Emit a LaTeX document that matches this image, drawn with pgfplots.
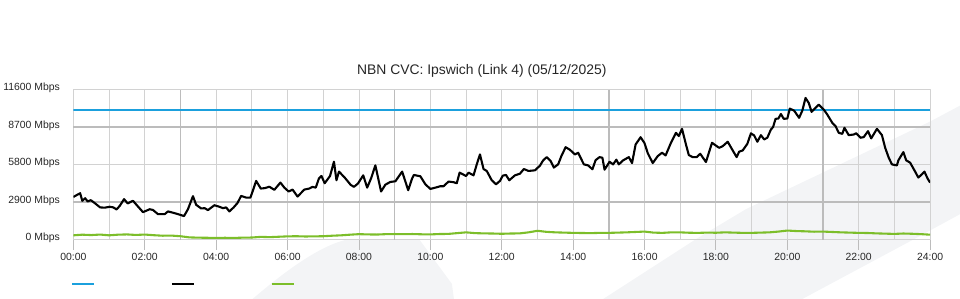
\documentclass[border=0pt]{standalone}
\usepackage{fontspec}
\setmainfont{Liberation Sans}
\usepackage{pgfplots}
\pgfplotsset{compat=1.18}
\definecolor{cblue}{RGB}{27,160,221}
\definecolor{cgreen}{RGB}{124,190,42}
\definecolor{gridlight}{RGB}{210,210,210}
\definecolor{griddark}{RGB}{188,188,188}
\definecolor{wm}{RGB}{243,244,246}
\begin{document}
\begin{tikzpicture}
\begin{scope}[x=1bp,y=1bp]
\useasboundingbox (0,0) rectangle (960,300);
\fill[wm] (250,0) .. controls (285,30) and (320,55) .. (347,60) -- (417,60) -- (450,15) -- (452,0) -- cycle;
\fill[wm] (602,0) -- (695,60) -- (745,90) -- (930,178) -- (960,194) -- (960,85) -- (914,60) -- (802,0) -- cycle;
\node[font=\fontsize{14}{16}\selectfont, text=black!85] at (480,229) {NBN CVC: Ipswich (Link 4) (05/12/2025)};
\draw[cblue, line width=2.2bp] (69,15) -- (91,15);
\draw[black, line width=2.2bp] (169,15) -- (191,15);
\draw[cgreen, line width=2.2bp] (269,15) -- (291,15);
\end{scope}
\begin{axis}[
  at={(70bp,59.5bp)}, anchor=south west,
  width=860bp, height=150.5bp, scale only axis,
  xmin=0, xmax=24, ymin=0, ymax=11600,
  scaled y ticks=false, scaled x ticks=false,
  axis line style={draw=gridlight, line width=0.9bp},
  xtick={0,2,...,24},
  xticklabels={00:00,02:00,04:00,06:00,08:00,10:00,12:00,14:00,16:00,18:00,20:00,22:00,24:00},
  minor xtick={1,3,...,23},
  grid=both,
  major grid style={gridlight, line width=0.9bp},
  minor grid style={gridlight, line width=0.9bp},
  xtick pos=bottom, ytick pos=left,
  tick align=outside,
  x tick style={draw=griddark, line width=0.9bp},
  major tick length=10bp, minor tick length=0bp,
  y tick style={draw=none},
  ytick={0,5800,11600},
  yticklabels={0 Mbps,5800 Mbps,11600 Mbps},
  extra y ticks={2900,8700},
  extra y tick labels={2900 Mbps,8700 Mbps},
  extra y tick style={grid=major, major grid style={griddark, line width=1.4bp}},
  extra x ticks={3,9,15,21},
  extra x tick labels={},
  extra x tick style={grid=major, major grid style={griddark, line width=1.4bp}, major tick length=0bp},
  ticklabel style={font=\fontsize{10.5}{12}\selectfont, text=black!85},
  yticklabel style={yshift=1.5bp},
  line join=round,
]
\addplot[cblue, line width=2.2bp] coordinates {(0,10000) (24,10000)};
\addplot[black, line width=2.1bp] coordinates {
(0.00,3300) (0.19,3590) (0.25,3000) (0.33,3200) (0.40,2950) (0.49,3050) (0.61,2800) (0.75,2490) (0.88,2470) (1.02,2540) (1.12,2490) (1.21,2330) (1.30,2610) (1.42,3130) (1.52,2800) (1.67,3000) (1.81,2560) (1.95,2125) (2.14,2350) (2.23,2290) (2.37,1970) (2.56,1970) (2.65,2180) (2.79,2080) (2.93,1970) (3.10,1820) (3.21,2350) (3.35,3360) (3.44,2690) (3.58,2410) (3.68,2430) (3.77,2280) (3.95,2660) (4.09,2540) (4.19,2430) (4.28,2490) (4.37,2180) (4.49,2490) (4.60,2840) (4.70,3380)
(4.84,3250) (4.96,3250) (5.02,3720) (5.12,4540) (5.25,3950) (5.36,3980) (5.49,4090) (5.63,3850) (5.80,4410) (5.91,4020) (6.03,3720) (6.14,3870) (6.28,3330) (6.47,3870) (6.61,3950) (6.70,4080) (6.79,4020) (6.88,4740) (6.95,4920) (7.04,4360) (7.19,4920) (7.30,6030) (7.37,4590) (7.44,5260) (7.60,4800) (7.77,4230) (7.86,4080) (7.97,4330) (8.12,4970) (8.23,4020) (8.34,4740) (8.46,5740) (8.62,3720) (8.74,4250) (8.88,4460) (9.02,4510) (9.21,5260) (9.38,3820) (9.49,4740)
(9.54,5000) (9.72,4900) (9.86,4280) (10.00,3920) (10.14,4020) (10.28,4130) (10.37,4130) (10.51,4490) (10.65,4440) (10.74,4360) (10.82,5180) (10.91,5050) (11.00,4920) (11.07,5180) (11.21,4970) (11.30,5820) (11.39,6590) (11.49,5460) (11.58,5310) (11.72,4590) (11.84,4280) (11.95,4540) (12.03,4950) (12.12,5000) (12.21,4590) (12.37,4970) (12.51,5100) (12.62,5460) (12.75,5310) (12.93,5360) (13.07,5720) (13.16,6130) (13.26,6380) (13.37,6080) (13.46,5570) (13.58,5820) (13.67,6460) (13.79,7150) (13.91,6950) (14.05,6590) (14.14,6720)
(14.30,5820) (14.42,5740) (14.54,5440) (14.63,6150) (14.74,6380) (14.82,6330) (14.88,5410) (15.02,6020) (15.12,5820) (15.21,6180) (15.28,5820) (15.40,6130) (15.56,6380) (15.65,5920) (15.75,7360) (15.89,7920) (16.00,7460) (16.09,6690) (16.23,5920) (16.37,6460) (16.49,6720) (16.59,6510) (16.74,7490) (16.88,8260) (16.96,8010) (17.05,8570) (17.16,7360) (17.24,6540) (17.35,6380) (17.46,6380) (17.56,6640) (17.72,6000) (17.89,7490) (17.98,7310) (18.09,7100) (18.19,7230) (18.33,7570) (18.47,6900) (18.58,6380) (18.65,6800) (18.75,6900) (18.88,7410) (18.98,8220)
(19.07,8060) (19.16,7570) (19.26,8080) (19.35,7750) (19.44,7880) (19.54,8520) (19.60,8700) (19.67,9340) (19.75,9370) (19.82,9720) (19.90,9340) (20.00,9370) (20.07,10130) (20.19,9980) (20.33,9420) (20.42,9980) (20.51,10960) (20.60,10570) (20.68,9880) (20.79,10190) (20.88,10440) (21.02,10060) (21.12,9670) (21.26,9030) (21.35,8780) (21.44,8260) (21.54,8180) (21.60,8650) (21.72,8080) (21.86,8130) (21.93,8230) (22.05,7880) (22.14,7930) (22.26,8390) (22.35,7830) (22.51,8570) (22.65,8080) (22.74,7110) (22.84,6340) (22.93,5820) (23.07,5740) (23.11,6130) (23.25,6770) (23.33,6130) (23.44,5950) (23.56,5360) (23.67,4800) (23.77,5050) (23.84,5260) (23.93,4720) (24.00,4410)
};
\addplot[cgreen, line width=2.1bp] coordinates {
(0.00,330) (0.25,380) (0.5,350) (0.75,390) (1.0,330) (1.25,380) (1.5,400) (1.75,360) (2.0,390) (2.25,340) (2.5,300) (2.75,310) (3.0,260) (3.25,170) (3.5,150) (3.75,140) (4.0,130) (4.25,140) (4.5,130) (4.75,150) (5.0,160) (5.25,210) (5.5,190) (5.75,220) (6.0,250) (6.25,260) (6.5,240) (6.75,250) (7.0,260) (7.25,300) (7.5,330) (7.75,380) (8.0,420) (8.25,400) (8.5,390) (8.75,420) (9.0,430) (9.25,420) (9.5,430) (9.75,410) (10.0,400) (10.25,430) (10.5,440) (10.75,500) (11.0,560) (11.25,500) (11.5,480) (11.75,470) (12.0,450) (12.25,470) (12.5,480) (12.75,560) (13.0,680) (13.25,600) (13.5,560) (13.75,540) (14.0,520) (14.25,510) (14.5,500) (14.75,520) (15.0,520) (15.25,540) (15.5,560) (15.75,590) (16.0,620) (16.25,540) (16.5,520) (16.75,560) (17.0,560) (17.25,530) (17.5,520) (17.75,540) (18.0,530) (18.25,560) (18.5,540) (18.75,520) (19.0,520) (19.25,540) (19.5,560) (19.75,620) (20.0,700) (20.25,660) (20.5,640) (20.75,610) (21.0,620) (21.25,590) (21.5,560) (21.75,540) (22.0,520) (22.25,510) (22.5,480) (22.75,460) (23.0,440) (23.25,470) (23.5,450) (23.75,420) (24.0,380)
};
\end{axis}
\end{tikzpicture}
\end{document}
